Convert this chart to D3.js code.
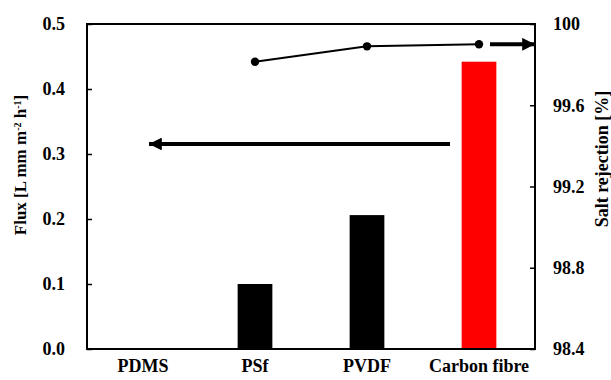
<!DOCTYPE html>
<html>
<head>
<meta charset="utf-8">
<script src="https://cdn.jsdelivr.net/npm/d3@7"></script>
<style>
  body { margin: 0; background: #fff; }
  svg text { font-family: "Liberation Serif", "Times New Roman", Tinos, "DejaVu Serif", serif !important; font-weight: bold; }
</style>
</head>
<body>
<div id="chart"></div>
<script>
// Data
const materials = ["PDMS", "PSf", "PVDF", "Carbon fibre"];
const flux = [0, 0.1, 0.206, 0.442];
const barColors = ["#000000", "#000000", "#000000", "#ff0000"];
const rejectionMaterials = ["PSf", "PVDF", "Carbon fibre"];
const rejection = [99.814, 99.89, 99.9];
const fluxTicks = [0, 0.1, 0.2, 0.3, 0.4, 0.5];
const rejectionTicks = [98.4, 98.8, 99.2, 99.6, 100];

const width = 611;
const height = 380;
const margin = { top: 24, right: 76, bottom: 31, left: 87 };

const svg = d3.select("#chart")
    .append("svg")
    .attr("width", width)
    .attr("height", height);

const x = d3.scaleBand()
    .domain(materials)
    .range([margin.left, width - margin.right])
    .paddingInner(0.69)
    .paddingOuter(0.345);

const yLeft = d3.scaleLinear()
    .domain([0, 0.5])
    .range([height - margin.bottom, margin.top]);

const yRight = d3.scaleLinear()
    .domain([98.4, 100])
    .range([height - margin.bottom, margin.top]);

// Arrow heads
const defs = svg.append("defs");
defs.append("marker")
    .attr("id", "head")
    .attr("viewBox", "0 0 10 10")
    .attr("refX", 10)
    .attr("refY", 5)
    .attr("markerWidth", 4)
    .attr("markerHeight", 3.2)
    .attr("markerUnits", "strokeWidth")
    .attr("orient", "auto")
    .append("path")
    .attr("d", "M0,0 L10,5 L0,10 Z")
    .attr("fill", "#000");

// Bars
svg.append("g")
    .selectAll("rect")
    .data(materials.map((m, i) => ({ m, v: flux[i], c: barColors[i] })))
    .enter().append("rect")
    .attr("x", d => x(d.m))
    .attr("y", d => yLeft(d.v))
    .attr("width", x.bandwidth())
    .attr("height", d => yLeft(0) - yLeft(d.v))
    .attr("fill", d => d.c);

// Salt rejection line
const pts = rejectionMaterials.map((m, i) => ({ m, v: rejection[i] }));
const line = d3.line()
    .x(d => x(d.m) + x.bandwidth() / 2)
    .y(d => yRight(d.v));

svg.append("path")
    .datum(pts)
    .attr("d", line)
    .attr("fill", "none")
    .attr("stroke", "#000")
    .attr("stroke-width", 2);

svg.append("g")
    .selectAll("circle")
    .data(pts)
    .enter().append("circle")
    .attr("cx", d => x(d.m) + x.bandwidth() / 2)
    .attr("cy", d => yRight(d.v))
    .attr("r", 4.2)
    .attr("fill", "#000");

// Axes
const plotW = width - margin.left - margin.right;

const leftAxis = d3.axisLeft(yLeft)
    .tickValues(fluxTicks)
    .tickFormat(d3.format(".1f"))
    .tickSizeInner(-5)
    .tickSizeOuter(0)
    .tickPadding(22);

const gL = svg.append("g")
    .attr("transform", `translate(${margin.left},0)`)
    .call(leftAxis);

const rightAxis = d3.axisRight(yRight)
    .tickValues(rejectionTicks)
    .tickFormat(d => d === 100 ? "100" : d3.format(".1f")(d))
    .tickSizeInner(-5)
    .tickSizeOuter(0)
    .tickPadding(18);

const gR = svg.append("g")
    .attr("transform", `translate(${width - margin.right},0)`)
    .call(rightAxis);

const bottomAxis = d3.axisBottom(x)
    .tickSize(0)
    .tickPadding(10);

const gB = svg.append("g")
    .attr("transform", `translate(0,${height - margin.bottom})`)
    .call(bottomAxis);

[gL, gR, gB].forEach(g => {
    g.attr("font-family", null);
    g.selectAll(".domain").remove();
    g.selectAll("line").attr("stroke", "#000").attr("stroke-width", 1.5);
    g.selectAll("text")
        .attr("fill", "#000")
        .style("font-size", "18px")
        .style("font-weight", "bold");
});
gB.selectAll("line").remove();

// Frame
svg.append("rect")
    .attr("x", margin.left)
    .attr("y", margin.top)
    .attr("width", plotW)
    .attr("height", height - margin.top - margin.bottom)
    .attr("fill", "none")
    .attr("stroke", "#000")
    .attr("stroke-width", 2);

// Direction arrows
svg.append("line")
    .attr("x1", 450).attr("y1", 144)
    .attr("x2", 149).attr("y2", 144)
    .attr("stroke", "#000")
    .attr("stroke-width", 4)
    .attr("marker-end", "url(#head)");

svg.append("line")
    .attr("x1", 490).attr("y1", yRight(99.9))
    .attr("x2", width - margin.right).attr("y2", yRight(99.9))
    .attr("stroke", "#000")
    .attr("stroke-width", 4)
    .attr("marker-end", "url(#head)");

// Axis titles
const titleL = svg.append("text")
    .attr("transform", "translate(26,165) rotate(-90)")
    .attr("text-anchor", "middle")
    .style("font-size", "17px");
titleL.append("tspan").text("Flux [L mm m");
titleL.append("tspan").attr("baseline-shift", "super").style("font-size", "10px").text("-2");
titleL.append("tspan").text(" h");
titleL.append("tspan").attr("baseline-shift", "super").style("font-size", "10px").text("-1");
titleL.append("tspan").text("]");

svg.append("text")
    .attr("transform", "translate(608,159) rotate(-90)")
    .attr("text-anchor", "middle")
    .style("font-size", "18px")
    .text("Salt rejection [%]");
</script>
</body>
</html>
